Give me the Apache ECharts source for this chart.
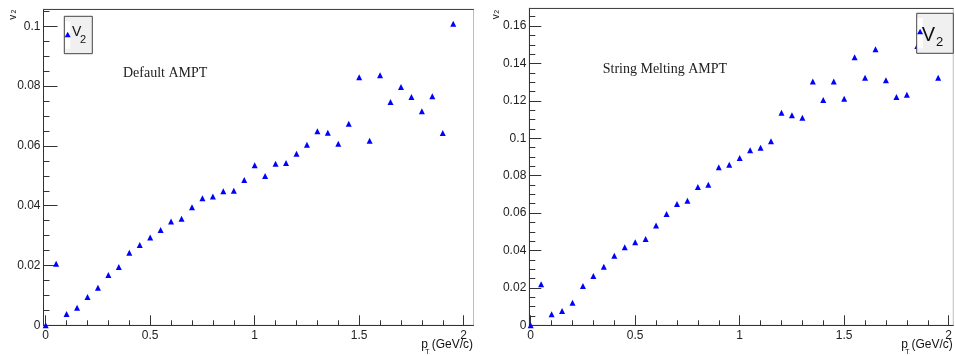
<!DOCTYPE html>
<html><head><meta charset="utf-8">
<script src="https://cdn.jsdelivr.net/npm/echarts@6/dist/echarts.min.js"></script>
<style>html,body{margin:0;padding:0;background:#fff}#c{width:955px;height:356px}</style>
</head><body><div id="c"></div>
<script>
// ---- data ----
const ptDefault = [0,0.05,0.1,0.15,0.2,0.25,0.3,0.35,0.4,0.45,0.5,0.55,0.6,0.65,0.7,0.75,0.8,0.85,0.9,0.95,
  1.0,1.05,1.1,1.15,1.2,1.25,1.3,1.35,1.4,1.45,1.5,1.55,1.6,1.65,1.7,1.75,1.8,1.85,1.9,1.95];
const v2Default = [0,0.0206,0.0038,0.0059,0.0095,0.0126,0.0168,0.0195,0.0243,0.0269,0.0294,0.0319,0.0347,0.0356,0.0395,0.0425,0.0431,0.0448,0.0450,0.0486,
  0.0535,0.0499,0.0540,0.0543,0.0574,0.0604,0.0649,0.0644,0.0607,0.0674,0.0830,0.0617,0.0836,0.0747,0.0797,0.0764,0.0716,0.0766,0.0643,0.1009];
const ptSM = [0,0.05,0.1,0.15,0.2,0.25,0.3,0.35,0.4,0.45,0.5,0.55,0.6,0.65,0.7,0.75,0.8,0.85,0.9,0.95,
  1.0,1.05,1.1,1.15,1.2,1.25,1.3,1.35,1.4,1.45,1.5,1.55,1.6,1.65,1.7,1.75,1.8,1.85,1.95];
const v2SM = [0,0.0219,0.0059,0.0077,0.0121,0.0210,0.0264,0.0313,0.0372,0.0417,0.0444,0.0461,0.0533,0.0595,0.0649,0.0666,0.0740,0.0752,0.0845,0.0859,
  0.0895,0.0936,0.0950,0.0984,0.1137,0.1123,0.1110,0.1303,0.1205,0.1303,0.1212,0.1433,0.1324,0.1476,0.1310,0.1221,0.1233,0.1494,0.1324];
const xMajorTicks = [0,0.5,1,1.5,2];
const xMinorTicks = [0.1,0.2,0.3,0.4,0.6,0.7,0.8,0.9,1.1,1.2,1.3,1.4,1.6,1.7,1.8,1.9];
const yMajorDefault = [0,0.02,0.04,0.06,0.08,0.1];
const yMinorDefault = [0.005,0.01,0.015,0.025,0.03,0.035,0.045,0.05,0.055,0.065,0.07,0.075,0.085,0.09,0.095,0.105];
const yMajorSM = [0,0.02,0.04,0.06,0.08,0.1,0.12,0.14,0.16];
const yMinorSM = [0.005,0.01,0.015,0.025,0.03,0.035,0.045,0.05,0.055,0.065,0.07,0.075,0.085,0.09,0.095,
  0.105,0.11,0.115,0.125,0.13,0.135,0.145,0.15,0.155,0.165];
const titleDefault = 'Default AMPT';
const titleSM = 'String Melting AMPT';

// ---- layout ----
const FONT = 'Liberation Sans, Arial, Helvetica, sans-serif';
const AX = '#333';
const grids = [
  {left:43.5, top:9.3, width:430, height:316},
  {left:529.3, top:8.3, width:424, height:317}
];
const xr = [[-0.0105, 2.047], [-0.0067, 2.022]];
const yr = [[0, 0.1057], [0, 0.1695]];
const yMaj = [yMajorDefault, yMajorSM];
const yMin = [yMinorDefault, yMinorSM];
const yMajLen = [14, 12];
const fmt = v => v === 0 ? '0' : String(+(+v).toFixed(3));

const xAxis = [], yAxis = [];
for (let g = 0; g < 2; g++) {
  xAxis.push({gridIndex:g, type:'value', min:xr[g][0], max:xr[g][1], position:'bottom',
    axisLine:{show:true, onZero:false, lineStyle:{color:AX, width:1}},
    axisTick:{show:true, inside:true, length:10, customValues:xMajorTicks, lineStyle:{color:AX}},
    axisLabel:{show:true, customValues:xMajorTicks, margin:4, fontSize:12, color:'#222', fontFamily:FONT, formatter:fmt},
    splitLine:{show:false}});
  xAxis.push({gridIndex:g, type:'value', min:xr[g][0], max:xr[g][1], position:'bottom',
    axisLine:{show:false, onZero:false},
    axisTick:{show:true, inside:true, length:5, customValues:xMinorTicks, lineStyle:{color:AX}},
    axisLabel:{show:false}, splitLine:{show:false}});
  xAxis.push({gridIndex:g, type:'value', min:xr[g][0], max:xr[g][1], position:'top',
    axisLine:{show:true, onZero:false, lineStyle:{color:'#444', width:1}},
    axisTick:{show:false}, axisLabel:{show:false}, splitLine:{show:false}});
  yAxis.push({gridIndex:g, type:'value', min:yr[g][0], max:yr[g][1], position:'left',
    axisLine:{show:true, onZero:false, lineStyle:{color:AX, width:1}},
    axisTick:{show:true, inside:true, length:yMajLen[g], customValues:yMaj[g], lineStyle:{color:AX}},
    axisLabel:{show:true, customValues:yMaj[g], margin:3, fontSize:12, color:'#222', fontFamily:FONT, formatter:fmt},
    splitLine:{show:false}});
  yAxis.push({gridIndex:g, type:'value', min:yr[g][0], max:yr[g][1], position:'left',
    axisLine:{show:false, onZero:false},
    axisTick:{show:true, inside:true, length:6, customValues:yMin[g], lineStyle:{color:AX}},
    axisLabel:{show:false}, splitLine:{show:false}});
}

const series = [
  {type:'scatter', xAxisIndex:0, yAxisIndex:0, symbol:'triangle', symbolSize:6,
   itemStyle:{color:'#0000ff', opacity:1}, data: ptDefault.map((x,i)=>[x, v2Default[i]])},
  {type:'scatter', xAxisIndex:3, yAxisIndex:2, symbol:'triangle', symbolSize:6,
   itemStyle:{color:'#0000ff', opacity:1}, data: ptSM.map((x,i)=>[x, v2SM[i]])}
];

function txt(x, y, s, size, opts) {
  return Object.assign({type:'text', x:x, y:y, z:100,
    style:{text:s, font: size + 'px ' + FONT, fill:'#111', textAlign:'center', textVerticalAlign:'middle'}}, opts || {});
}
function legendBox(x0, y0, w, h, vSize, sSize, vx, vy, sx, sy) {
  return [
    {type:'rect', z:100, shape:{x:x0, y:y0, width:w, height:h}, style:{fill:'#f0f0f0', stroke:'#444', lineWidth:1}},
    {type:'rect', z:101, shape:{x:x0+1, y:y0+5, width:5, height:h-10}, style:{fill:'#ffffff'}},
    {type:'polygon', z:102, shape:{points:[[x0+3.4, y0+15.5],[x0+6.4, y0+21],[x0+0.4, y0+21]]}, style:{fill:'#0000ff'}},
    txt(vx, vy, 'V', vSize, {z:102}),
    txt(sx, sy, '2', sSize, {z:102})
  ];
}

const graphic = [].concat(
  legendBox(64.3, 16.3, 28, 37.4, 14, 11, 76.7, 32, 83, 39.5),
  legendBox(916.7, 13.3, 36.6, 40, 20, 13, 928.4, 35, 939.7, 42.5),
  [
    {type:'text', z:100, x:123, y:73, style:{text:titleDefault, font:'14px Liberation Serif, Times New Roman, serif', fill:'#222', textAlign:'left', textVerticalAlign:'middle'}},
    {type:'text', z:100, x:602.7, y:69, style:{text:titleSM, font:'14px Liberation Serif, Times New Roman, serif', fill:'#222', textAlign:'left', textVerticalAlign:'middle'}},
    // y-axis titles (rotated)
    txt(13.5, 17.3, 'v', 10, {rotation:Math.PI/2}),
    txt(14.2, 11.5, '2', 7, {rotation:Math.PI/2}),
    txt(496, 16.7, 'v', 10, {rotation:Math.PI/2}),
    txt(496.7, 11.7, '2', 7, {rotation:Math.PI/2}),
    // x-axis titles
    {type:'text', z:100, x:473, y:345, style:{text:'(GeV/c)', font:'12px ' + FONT, fill:'#111', textAlign:'right', textVerticalAlign:'middle'}},
    txt(424.7, 344.5, 'p', 12),
    txt(427.5, 352.5, 'T', 7),
    {type:'text', z:100, x:911.5, y:345, style:{text:'(GeV/c)', font:'12px ' + FONT, fill:'#111', textAlign:'left', textVerticalAlign:'middle'}},
    txt(904.7, 344.5, 'p', 12),
    txt(907.5, 352.5, 'T', 7)
  ]
);

const chart = echarts.init(document.getElementById('c'), null, {renderer:'canvas'});
chart.setOption({
  animation:false,
  backgroundColor:'#ffffff',
  grid: grids.map(g => Object.assign({show:true, borderColor:'#bdbdbd', borderWidth:1, backgroundColor:'#fff', containLabel:false}, g)),
  xAxis, yAxis, series, graphic
});
</script>
</body></html>
